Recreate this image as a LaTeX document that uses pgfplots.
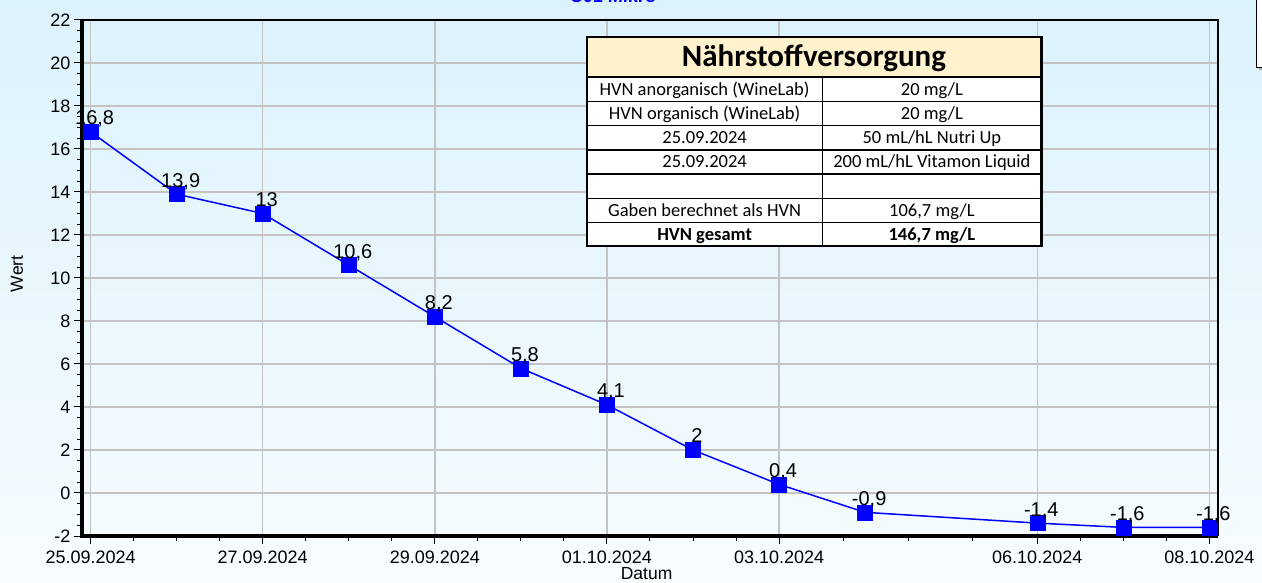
\documentclass[border=0pt]{standalone}
\usepackage{pgfplots}
\pgfplotsset{compat=1.18}
\usepackage{fontspec}
\setmainfont{Liberation Sans}
\newfontfamily\calibri{Carlito}
\definecolor{bgtop}{RGB}{220,242,252}
\definecolor{bgbot}{RGB}{247,252,255}
\definecolor{gridc}{RGB}{195,195,195}
\definecolor{hdr}{RGB}{255,242,204}
\pgfplotstableread{
x y
0 16.8
1 13.9
2 13.0
3 10.6
4 8.2
5 5.8
6 4.1
7 2.0
8 0.4
9 -0.9
11 -1.4
12 -1.6
13 -1.6
}\datatable
\begin{document}
\begin{tikzpicture}
\shade[top color=bgtop, bottom color=bgbot] (0,0) rectangle (1262bp,583bp);
% title (cut off at the top, as in the reference)
\node[anchor=base, text=blue, font=\bfseries\fontsize{18bp}{20bp}\selectfont, inner sep=0pt] at (613bp,580.5bp) {C01 Mikro};
\begin{axis}[
  at={(82bp,47bp)}, anchor=south west, scale only axis,
  width=1136bp, height=516bp,
  xmin=-0.1, xmax=13.1, ymin=-2, ymax=22,
  clip=false,
  axis line style={draw=none},
  xtick={0,2,4,6,8,11,13},
  xticklabels={25.09.2024,27.09.2024,29.09.2024,01.10.2024,03.10.2024,06.10.2024,08.10.2024},
  minor xtick={0.5,1,1.5,2.5,3,3.5,4.5,5,5.5,6.5,7,7.5,8.75,9.5,10.25,11.5,12,12.5},
  ytick={-2,0,...,22},
  minor y tick num=3,
  xtick pos=left, ytick pos=left,
  tick align=outside,
  major tick length=8bp, minor tick length=5bp,
  tick style={black, line width=1bp},
  grid=major,
  major grid style={draw=gridc, line width=1.5bp},
  minor grid style={draw=none},
  /pgf/number format/assume math mode=true,
  ticklabel style={font=\fontsize{18bp}{20bp}\selectfont, text=black},
  xticklabel style={yshift=-3bp},
  xlabel={Datum}, ylabel={Wert},
  label style={font=\fontsize{17.5bp}{19bp}\selectfont},
  xlabel style={at={(axis description cs:0.497,-0.0735)}, anchor=center},
  ylabel style={at={(axis description cs:-0.0572,0.508)}, anchor=center},
]
\addplot[blue, line width=1.5bp, mark=square*, mark size=7.5bp,
  mark options={fill=blue, draw=blue, line width=0.5bp},
  point meta=y,
  nodes near coords={\pgfmathprintnumber[fixed, precision=1, use comma, assume math mode=true]{\pgfplotspointmeta}},
  nodes near coords style={anchor=base, inner sep=0pt, xshift=4bp, yshift=7bp,
    font=\fontsize{20bp}{22bp}\selectfont, text=black}]
  table[x=x, y=y] {\datatable};
\draw[line width=4bp, black] (rel axis cs:0,1) -- (rel axis cs:0,0) -- (rel axis cs:1,0);
\draw[line width=1.5bp, black] (rel axis cs:0,1) -- (rel axis cs:1,1) -- (rel axis cs:1,0);
\end{axis}
\begin{scope}[shift={(0,583bp)}, x=1bp, y=-1bp]
  % partial legend box at top right
  \fill[gray!60] (1259,3) rectangle (1280,70);
  \draw[line width=1.5bp, fill=white] (1256.7,-5) rectangle (1280,67.5);
  % table
  \fill[hdr] (587,37) rectangle (1041.5,76.7);
  \fill[white] (587,76.7) rectangle (1041.5,246);
  \foreach \yy in {101.5,125.7,150,174,198.3,222.5} {
    \draw[line width=1.2bp] (587,\yy) -- (1041.5,\yy);
  }
  \draw[line width=1.2bp] (822.3,76.7) -- (822.3,246);
  \draw[line width=2.2bp] (587,76.7) -- (1041.5,76.7);
  \draw[line width=2.2bp] (587,37) rectangle (1041.5,246);
  \node[font=\calibri\bfseries\fontsize{31bp}{34bp}\selectfont, inner sep=0pt] at (814,58) {Nährstoffversorgung};
  \tikzset{cell/.style={font=\calibri\fontsize{18.5bp}{20bp}\selectfont, inner sep=0pt, anchor=base}}
  \node[cell] at (704.6,95.5) {HVN anorganisch (WineLab)};
  \node[cell] at (931.9,95.5) {20 mg/L};
  \node[cell] at (704.6,119.7) {HVN organisch (WineLab)};
  \node[cell] at (931.9,119.7) {20 mg/L};
  \node[cell] at (704.6,144) {25.09.2024};
  \node[cell] at (931.9,144) {50 mL/hL Nutri Up};
  \node[cell] at (704.6,168) {25.09.2024};
  \node[cell] at (931.9,168) {200 mL/hL Vitamon Liquid};
  \node[cell] at (704.6,216.5) {Gaben berechnet als HVN};
  \node[cell] at (931.9,216.5) {106,7 mg/L};
  \node[cell, font=\calibri\bfseries\fontsize{18.5bp}{20bp}\selectfont] at (704.6,240.7) {HVN gesamt};
  \node[cell, font=\calibri\bfseries\fontsize{18.5bp}{20bp}\selectfont] at (931.9,240.7) {146,7 mg/L};
\end{scope}
\pgfresetboundingbox
\useasboundingbox (0,0) rectangle (1262bp,583bp);
\end{tikzpicture}
\end{document}
